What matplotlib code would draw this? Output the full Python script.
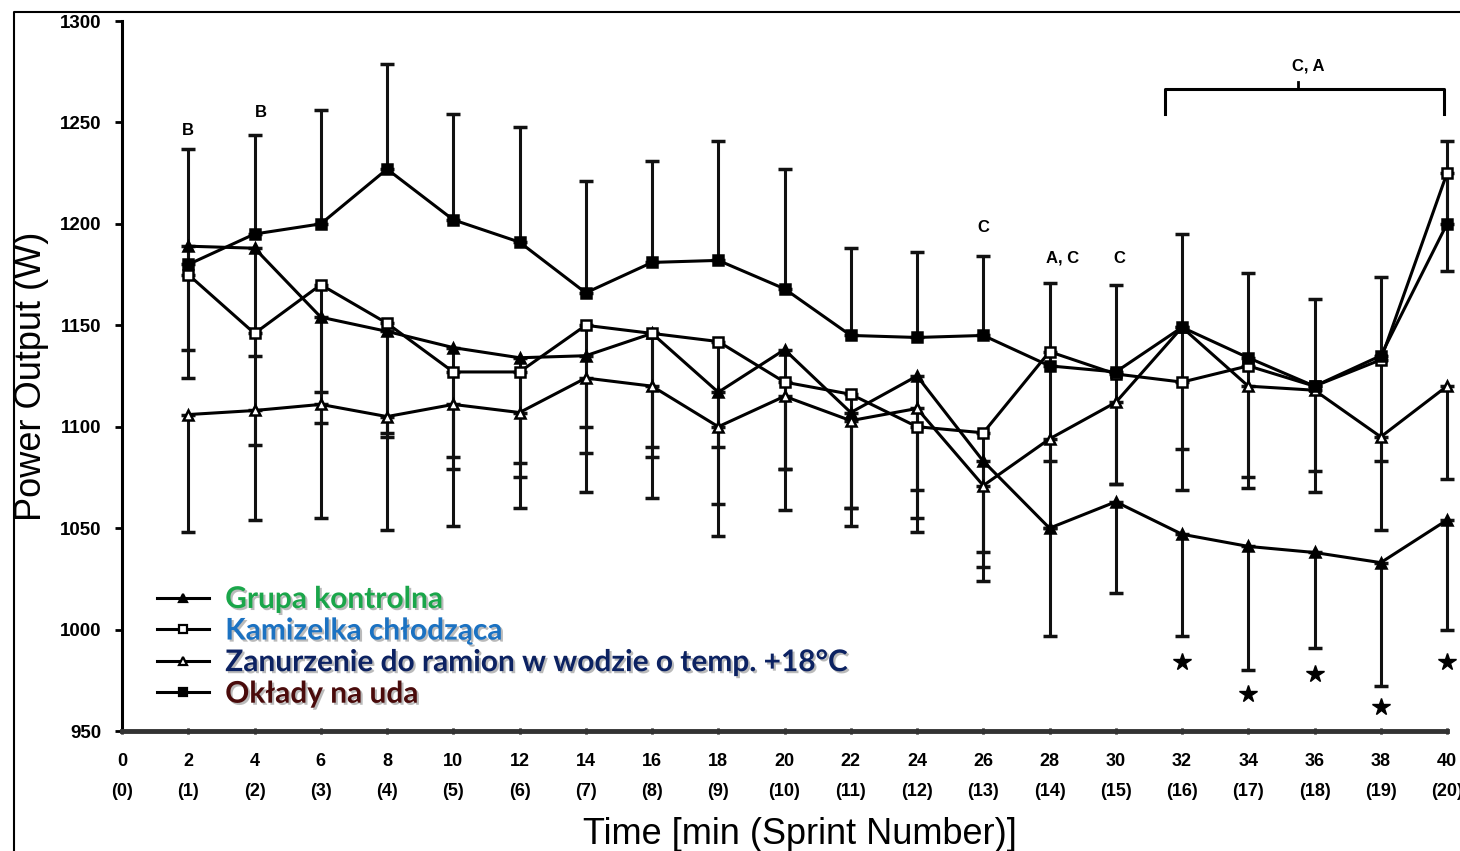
import numpy as np
import matplotlib.pyplot as plt
from matplotlib.lines import Line2D
import matplotlib.patheffects as pe

# time points (min) and sprint numbers
time_min = [2, 4, 6, 8, 10, 12, 14, 16, 18, 20, 22, 24, 26, 28, 30, 32, 34, 36, 38, 40]
x_ticks = list(range(0, 41, 2))
x_tick_labels = [f"{t}\n({t // 2})" for t in x_ticks]
y_ticks = [950, 1000, 1050, 1100, 1150, 1200, 1250, 1300]

# power output means (W) and SD
control = [1189, 1188, 1154, 1147, 1139, 1134, 1135, 1146, 1117, 1138,
           1107, 1125, 1083, 1050, 1063, 1047, 1041, 1038, 1033, 1054]
control_sd = [51, 53, 52, 52, 54, 52, 48, 61, 55, 59,
              47, 56, 52, 53, 45, 50, 61, 47, 61, 54]

vest = [1175, 1146, 1170, 1151, 1127, 1127, 1150, 1146, 1142, 1122,
        1116, 1100, 1097, 1137, 1126, 1122, 1130, 1120, 1133, 1225]
vest_sd = [51, 55, 53, 54, 48, 52, 50, 56, 52, 43,
           56, 45, 59, 54, 54, 53, 55, 42, 50, 48]

immersion = [1106, 1108, 1111, 1105, 1111, 1107, 1124, 1120, 1100, 1115,
             1103, 1109, 1071, 1094, 1112, 1149, 1120, 1118, 1095, 1120]
immersion_sd = [58, 54, 56, 56, 60, 47, 56, 55, 54, 56,
                52, 61, 47, 44, 40, 60, 50, 50, 46, 46]

thigh = [1180, 1195, 1200, 1227, 1202, 1191, 1166, 1181, 1182, 1168,
         1145, 1144, 1145, 1130, 1127, 1149, 1134, 1120, 1135, 1200]
thigh_sd = [57, 49, 56, 52, 52, 57, 55, 50, 59, 59,
            43, 42, 39, 41, 43, 46, 42, 43, 39, 41]

labels = ["Grupa kontrolna", "Kamizelka chłodząca",
          "Zanurzenie do ramion w wodzie o temp. +18°C", "Okłady na uda"]
label_colors = ["#1aa64a", "#1b72c2", "#0c2262", "#4a0b0b"]

# significance annotations
letters = [("B", 2, 1246), ("B", 4.2, 1255), ("C", 26, 1198), ("A, C", 28.4, 1183), ("C", 30.1, 1183)]
star_x = [32, 34, 36, 38, 40]
star_y = [984, 968, 978, 962, 984]
bracket_x = [31.5, 39.9]
bracket_y = [1254, 1266.5]

fig = plt.figure(figsize=(14.6, 8.51), dpi=100)
ax = fig.add_axes([0.0836, 0.141, 0.9075, 0.8343])

series = [
    (control, control_sd, "^", "black", False),
    (vest, vest_sd, "s", "white", False),
    (immersion, immersion_sd, "^", "white", False),
    (thigh, thigh_sd, "s", "black", True),
]
handles = []
for vals, sd, mk, face, up in series:
    zeros = np.zeros(len(sd))
    yerr = [zeros, sd] if up else [sd, zeros]
    ax.errorbar(time_min, vals, yerr=yerr, fmt="none", ecolor="#111111",
                elinewidth=2.2, capsize=5, capthick=2.5, zorder=2, clip_on=False)
    ax.plot(time_min, vals, color="black", lw=2.2, marker=mk, ms=7,
            mfc=face, mec="black", mew=1.8, zorder=3, clip_on=False)
    handles.append(Line2D([], [], color="black", lw=2.2, marker=mk, ms=6,
                          mfc=face, mec="black", mew=1.6))

for txt, xx, yy in letters:
    ax.text(xx, yy, txt, ha="center", va="center", fontsize=12,
            fontweight="bold", family="Liberation Sans")

ax.plot(star_x, star_y, linestyle="none", marker="*", ms=13, color="black", clip_on=False)

# bracket over sprints 16-20
mid = (bracket_x[0] + bracket_x[1]) / 2 - 0.2
ax.plot([bracket_x[0], bracket_x[0], bracket_x[1], bracket_x[1]],
        [bracket_y[0], bracket_y[1], bracket_y[1], bracket_y[0]], color="black", lw=2.2)
ax.plot([mid, mid], [bracket_y[1], bracket_y[1] + 3.5], color="black", lw=2)
ax.text(mid + 0.3, 1278, "C, A", ha="center", va="center", fontsize=12,
        fontweight="bold", family="Liberation Sans")

ax.set_xlim(0, 40)
ax.set_ylim(950, 1300)
ax.set_xticks(x_ticks)
ax.set_xticklabels(x_tick_labels, fontsize=13, fontweight="bold", family="Liberation Sans",
                   linespacing=2.0)
ax.set_yticks(y_ticks)
ax.set_yticklabels([str(v) for v in y_ticks], fontsize=13.5, fontweight="bold",
                   family="Liberation Sans")
ax.tick_params(axis="x", length=4, width=2, pad=14, direction="inout")
ax.tick_params(axis="y", length=5, width=2, pad=10)
for s in ["top", "right"]:
    ax.spines[s].set_visible(False)
ax.spines["left"].set_linewidth(2.2)
ax.spines["bottom"].set_linewidth(3.5)
ax.spines["bottom"].set_color("#333333")

ax.set_xlabel("Time [min (Sprint Number)]", fontsize=26, family="Liberation Sans", labelpad=12)
ax.xaxis.label.set_x(0.512)
ax.set_ylabel("Power Output (W)", fontsize=26, family="Liberation Sans", labelpad=8)

leg = ax.legend(handles, labels, loc="lower left", bbox_to_anchor=(0.017, 0.016),
                frameon=False, prop={"family": "Lato", "weight": "bold", "size": 21.5},
                handlelength=1.75, handletextpad=0.55, labelspacing=0.12, borderaxespad=0)
for t, c in zip(leg.get_texts(), label_colors):
    t.set_color(c)
    t.set_path_effects([pe.SimplePatchShadow(offset=(1.5, -1.5), shadow_rgbFace="#777777", alpha=0.5),
                        pe.Normal()])

# frame around the picture (top and left edges)
fig.add_artist(Line2D([14 / 1460, 14 / 1460, 1.0], [0.0, 1 - 12 / 851, 1 - 12 / 851],
                      transform=fig.transFigure, color="black", lw=1.5))

fig.savefig("out.png", dpi=100)
